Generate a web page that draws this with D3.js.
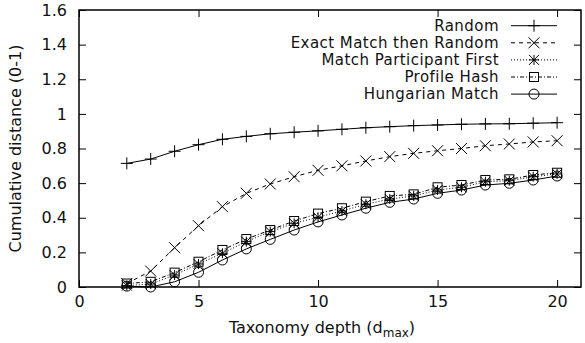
<!DOCTYPE html>
<html>
<head>
<meta charset="utf-8">
<script src="https://cdn.jsdelivr.net/npm/d3@7"></script>
<style>
  body { margin: 0; background: white; }
  text { font-family: "DejaVu Sans", sans-serif; fill: #111; }
</style>
</head>
<body>
<svg id="chart" width="585" height="343"></svg>
<script>
// data
var depths = [2, 3, 4, 5, 6, 7, 8, 9, 10, 11, 12, 13, 14, 15, 16, 17, 18, 19, 20];
var randomVals = [0.714, 0.739, 0.784, 0.822, 0.853, 0.87, 0.885, 0.894, 0.902, 0.911, 0.92, 0.926, 0.932, 0.936, 0.94, 0.942, 0.943, 0.946, 0.949];
var exactVals = [0.02, 0.092, 0.227, 0.354, 0.464, 0.541, 0.595, 0.637, 0.674, 0.70, 0.728, 0.753, 0.772, 0.787, 0.80, 0.816, 0.826, 0.838, 0.845];
var participantVals = [0.008, 0.017, 0.069, 0.133, 0.195, 0.262, 0.32, 0.368, 0.403, 0.439, 0.478, 0.508, 0.526, 0.56, 0.576, 0.608, 0.614, 0.637, 0.653];
var profileVals = [0.02, 0.03, 0.083, 0.146, 0.214, 0.277, 0.329, 0.381, 0.424, 0.455, 0.493, 0.526, 0.535, 0.576, 0.589, 0.618, 0.622, 0.647, 0.66];
var hungarianVals = [0.005, 0.0, 0.03, 0.085, 0.156, 0.22, 0.275, 0.329, 0.376, 0.416, 0.455, 0.489, 0.508, 0.541, 0.56, 0.589, 0.599, 0.618, 0.641];
var xTicks = [0, 5, 10, 15, 20];
var yTicks = [0, 0.2, 0.4, 0.6, 0.8, 1, 1.2, 1.4, 1.6];

var seriesNames = ["Random", "Exact Match then Random", "Match Participant First", "Profile Hash", "Hungarian Match"];
var seriesVals = [randomVals, exactVals, participantVals, profileVals, hungarianVals];
var seriesDash = [null, "4,4", "1,2", "4,2,1,2", null];
var seriesMark = ["plus", "cross", "star", "square", "circle"];

var plot_left = 79, plot_right = 581, plot_top = 10, plot_bottom = 287;
var font_size = "16px";
var legend_font = "15px";
var legend_gap = 17.1;

var svg = d3.select("#chart");
var x = d3.scaleLinear().domain([0, 21]).range([plot_left, plot_right]);
var y = d3.scaleLinear().domain([0, 1.6]).range([plot_bottom, plot_top]);

//axes, ticks inward and mirrored
svg.append("g").attr("transform", `translate(0,${plot_bottom})`)
    .call(d3.axisBottom(x).tickValues(xTicks).tickSize(-7).tickPadding(9).tickFormat(d3.format("d")))
    .call(g => g.select(".domain").remove())
    .call(g => g.selectAll("text").style("font-size", font_size).style("font-family", "DejaVu Sans"));
svg.append("g").attr("transform", `translate(0,${plot_top})`)
    .call(d3.axisTop(x).tickValues(xTicks).tickSize(-7).tickFormat(""))
    .call(g => g.select(".domain").remove());
svg.append("g").attr("transform", `translate(${plot_left},0)`)
    .call(d3.axisLeft(y).tickValues(yTicks).tickSize(-7).tickPadding(12).tickFormat(d => d))
    .call(g => g.select(".domain").remove())
    .call(g => g.selectAll("text").style("font-size", font_size).style("font-family", "DejaVu Sans"));
svg.append("g").attr("transform", `translate(${plot_right},0)`)
    .call(d3.axisRight(y).tickValues(yTicks).tickSize(-7).tickFormat(""))
    .call(g => g.select(".domain").remove());
svg.selectAll(".tick line").attr("stroke", "#000").attr("stroke-width", 1);

svg.append("rect").attr("x", plot_left).attr("y", plot_top).attr("width", plot_right - plot_left).attr("height", plot_bottom - plot_top)
    .attr("fill", "none").attr("stroke", "#000").attr("stroke-width", 1.5);

//axis titles
var xt = svg.append("text").attr("x", (plot_left + plot_right) / 2 - 8).attr("y", 333)
    .attr("text-anchor", "middle").style("font-size", font_size);
xt.append("tspan").text("Taxonomy depth (d");
xt.append("tspan").attr("dy", 4).style("font-size", "12px").text("max");
xt.append("tspan").attr("dy", -4).text(")");

svg.append("text").attr("transform", `translate(15,${(plot_top + plot_bottom) / 2}) rotate(-90)`)
    .attr("text-anchor", "middle").attr("dy", "0.35em").style("font-size", font_size).text("Cumulative distance (0-1)");

function drawMarker(g, kind, cx, cy) {
    if (kind == "plus") {
        var s = 6;
        g.append("path").attr("d", `M${cx - s},${cy}H${cx + s}M${cx},${cy - s}V${cy + s}`);
    } else if (kind == "cross") {
        var s = 5.5;
        g.append("path").attr("d", `M${cx - s},${cy - s}L${cx + s},${cy + s}M${cx - s},${cy + s}L${cx + s},${cy - s}`);
    } else if (kind == "star") {
        var s = 5;
        g.append("path").attr("d", `M${cx - s},${cy}H${cx + s}M${cx},${cy - s}V${cy + s}M${cx - s},${cy - s}L${cx + s},${cy + s}M${cx - s},${cy + s}L${cx + s},${cy - s}`);
    } else if (kind == "square") {
        var s = 4.5;
        g.append("rect").attr("x", cx - s).attr("y", cy - s).attr("width", 2 * s).attr("height", 2 * s).attr("fill", "none");
    } else if (kind == "circle") {
        g.append("circle").attr("cx", cx).attr("cy", cy).attr("r", 5).attr("fill", "none");
    }
}

var line = d3.line().x(d => x(d[0])).y(d => y(d[1]));

seriesVals.forEach(function (vals, i) {
    var pts = depths.map((d, j) => [d, vals[j]]);
    var g = svg.append("g").attr("stroke", "#000").attr("stroke-width", 1).attr("fill", "none");
    g.append("path").attr("d", line(pts)).attr("stroke-dasharray", seriesDash[i]);
    pts.forEach(p => drawMarker(g, seriesMark[i], x(p[0]), y(p[1])));

    //legend
    var ly = 25.7 + i * legend_gap;
    svg.append("text").attr("x", 499).attr("y", ly).attr("dy", "0.35em")
        .attr("text-anchor", "end").style("font-size", legend_font).style("letter-spacing", "0.45px").text(seriesNames[i]);
    var lg = svg.append("g").attr("stroke", "#000").attr("stroke-width", 1).attr("fill", "none");
    lg.append("line").attr("x1", 511).attr("x2", 557).attr("y1", ly).attr("y2", ly).attr("stroke-dasharray", seriesDash[i]);
    drawMarker(lg, seriesMark[i], 534, ly);
});
</script>
</body>
</html>
